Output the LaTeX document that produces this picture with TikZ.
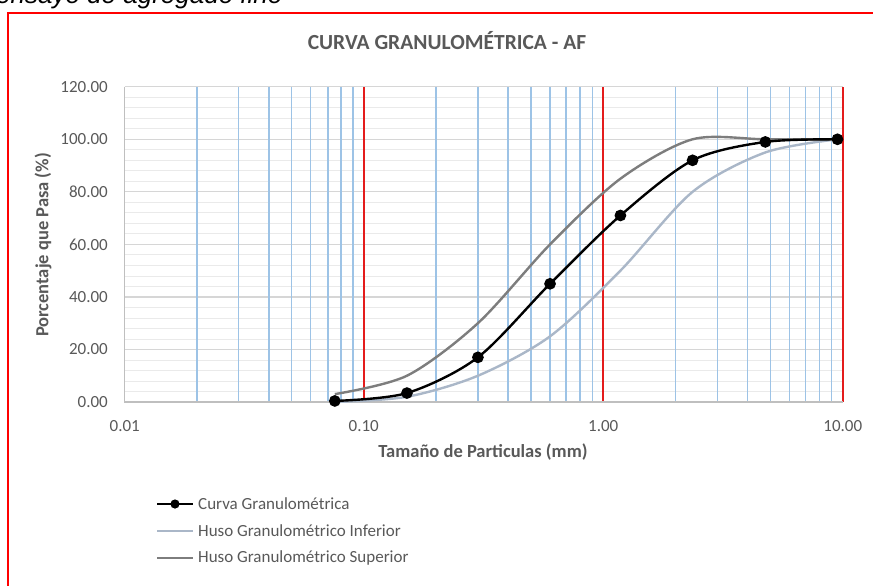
\documentclass[tikz,border=0pt]{standalone}
\usepackage{fontspec}
\setmainfont{Carlito}
\newfontfamily\arialfont{Liberation Sans}
\usetikzlibrary{calc}
\definecolor{txtgray}{RGB}{89,89,89}
\definecolor{gridblue}{RGB}{157,195,230}
\definecolor{gridred}{RGB}{228,28,28}
\definecolor{majgray}{RGB}{214,214,214}
\definecolor{mingray}{RGB}{234,234,234}
\definecolor{axgray}{RGB}{191,191,191}
\definecolor{lowcol}{RGB}{170,183,200}
\definecolor{upcol}{RGB}{125,125,125}

\begin{document}
\begin{tikzpicture}[x=1pt,y=-1pt,
    declare function={gx(\v)=124+239.6*(log10(\v)+2); gy(\p)=402-2.627*\p;},
    ticklbl/.style={text=txtgray,font=\fontsize{17}{20}\selectfont,inner sep=0pt},
    axttl/.style={text=txtgray,font=\fontsize{18.5}{22}\selectfont\bfseries,inner sep=0pt},
    lgtxt/.style={text=txtgray,font=\fontsize{17}{20}\selectfont,inner sep=0pt,anchor=west},
    curva/.style={black,line width=2.4},
    husoinf/.style={lowcol,line width=2.4},
    husosup/.style={upcol,line width=2.4}]
    \useasboundingbox (0,0) rectangle (873,586);
    \fill[white] (0,0) rectangle (873,586);
    \clip (0,0) rectangle (873,586);
    \node[anchor=base west,inner sep=0pt,font=\arialfont\itshape\fontsize{26}{28}\selectfont] (hdr) at (-4,4) {ensayo de agregado fino};
    \draw[red,line width=2] (7.7,600) -- (7.7,13.3) -- (880,13.3);
    \node[text=txtgray,font=\fontsize{21.5}{24}\selectfont\bfseries,inner sep=0pt] (ttl) at (447,41) {CURVA GRANULOMÉTRICA - AF};

    \foreach \p in {0,4,...,120}
        \draw[mingray,line width=0.8] ({gx(0.01)},{gy(\p)}) -- ({gx(10)},{gy(\p)});
    \foreach \p in {20,40,...,120}
        \draw[majgray,line width=1.2] ({gx(0.01)},{gy(\p)}) -- ({gx(10)},{gy(\p)});
    \foreach \d in {0.01,0.1,1}
        \foreach \k in {2,...,9}
            \draw[gridblue,line width=1.3] ({gx(\k*\d)},{gy(0)}) -- ({gx(\k*\d)},{gy(120)});
    \foreach \v in {0.1,1,10}
        \draw[gridred,line width=1.6] ({gx(\v)},{gy(0)}) -- ({gx(\v)},{gy(120)});
    \draw[axgray,line width=1.2] ({gx(0.01)},{gy(120)}) -- ({gx(0.01)},{gy(0)}) -- ({gx(10)},{gy(0)});

    \foreach \p in {0,20,...,120}
        \node[ticklbl,anchor=east] (yt\p) at (108,{gy(\p)}) {\p.00};
    \foreach \v/\t [count=\i] in {0.01/0.01,0.1/0.10,1/1.00,10/10.00}
        \node[ticklbl] (xt\i) at ({gx(\v)},426) {\t};
    \node[axttl,rotate=90] (ytitle) at (43,245) {Porcentaje que Pasa (\%)};
    \node[axttl] (xtitle) at (483,452) {Tamaño de Particulas (mm)};

    \draw[husoinf] plot[smooth] coordinates {({gx(0.075)},{gy(0)}) ({gx(0.15)},{gy(2)}) ({gx(0.3)},{gy(10)}) ({gx(0.6)},{gy(25)}) ({gx(1.18)},{gy(50)}) ({gx(2.36)},{gy(80)}) ({gx(4.75)},{gy(95)}) ({gx(9.5)},{gy(100)})};
    \draw[husosup] plot[smooth] coordinates {({gx(0.075)},{gy(3)}) ({gx(0.15)},{gy(10)}) ({gx(0.3)},{gy(30)}) ({gx(0.6)},{gy(60)}) ({gx(1.18)},{gy(85)}) ({gx(2.36)},{gy(100)}) ({gx(4.75)},{gy(100)}) ({gx(9.5)},{gy(100)})};
    \draw[curva] plot[smooth,mark=*,mark size=4.6,mark options={fill=black}] coordinates {({gx(0.075)},{gy(0.4)}) ({gx(0.15)},{gy(3.4)}) ({gx(0.3)},{gy(17)}) ({gx(0.6)},{gy(45)}) ({gx(1.18)},{gy(71)}) ({gx(2.36)},{gy(92)}) ({gx(4.75)},{gy(99)}) ({gx(9.5)},{gy(100)})};

    \node[lgtxt] (lg1) at (198,504) {Curva Granulométrica};
    \node[lgtxt] (lg2) at (198,531) {Huso Granulométrico Inferior};
    \node[lgtxt] (lg3) at (198,558) {Huso Granulométrico Superior};
    \coordinate (l1) at (157,504);
    \coordinate (l2) at (157,531);
    \coordinate (l3) at (157,558);
    \draw[curva] (l1) -- ($(lg1.west)+(-5,0)$);
    \fill ($(l1)!0.5!($(lg1.west)+(-5,0)$)$) circle (4.6);
    \draw[husoinf] (l2) -- ($(lg2.west)+(-5,0)$);
    \draw[husosup] (l3) -- ($(lg3.west)+(-5,0)$);
\end{tikzpicture}
\end{document}
